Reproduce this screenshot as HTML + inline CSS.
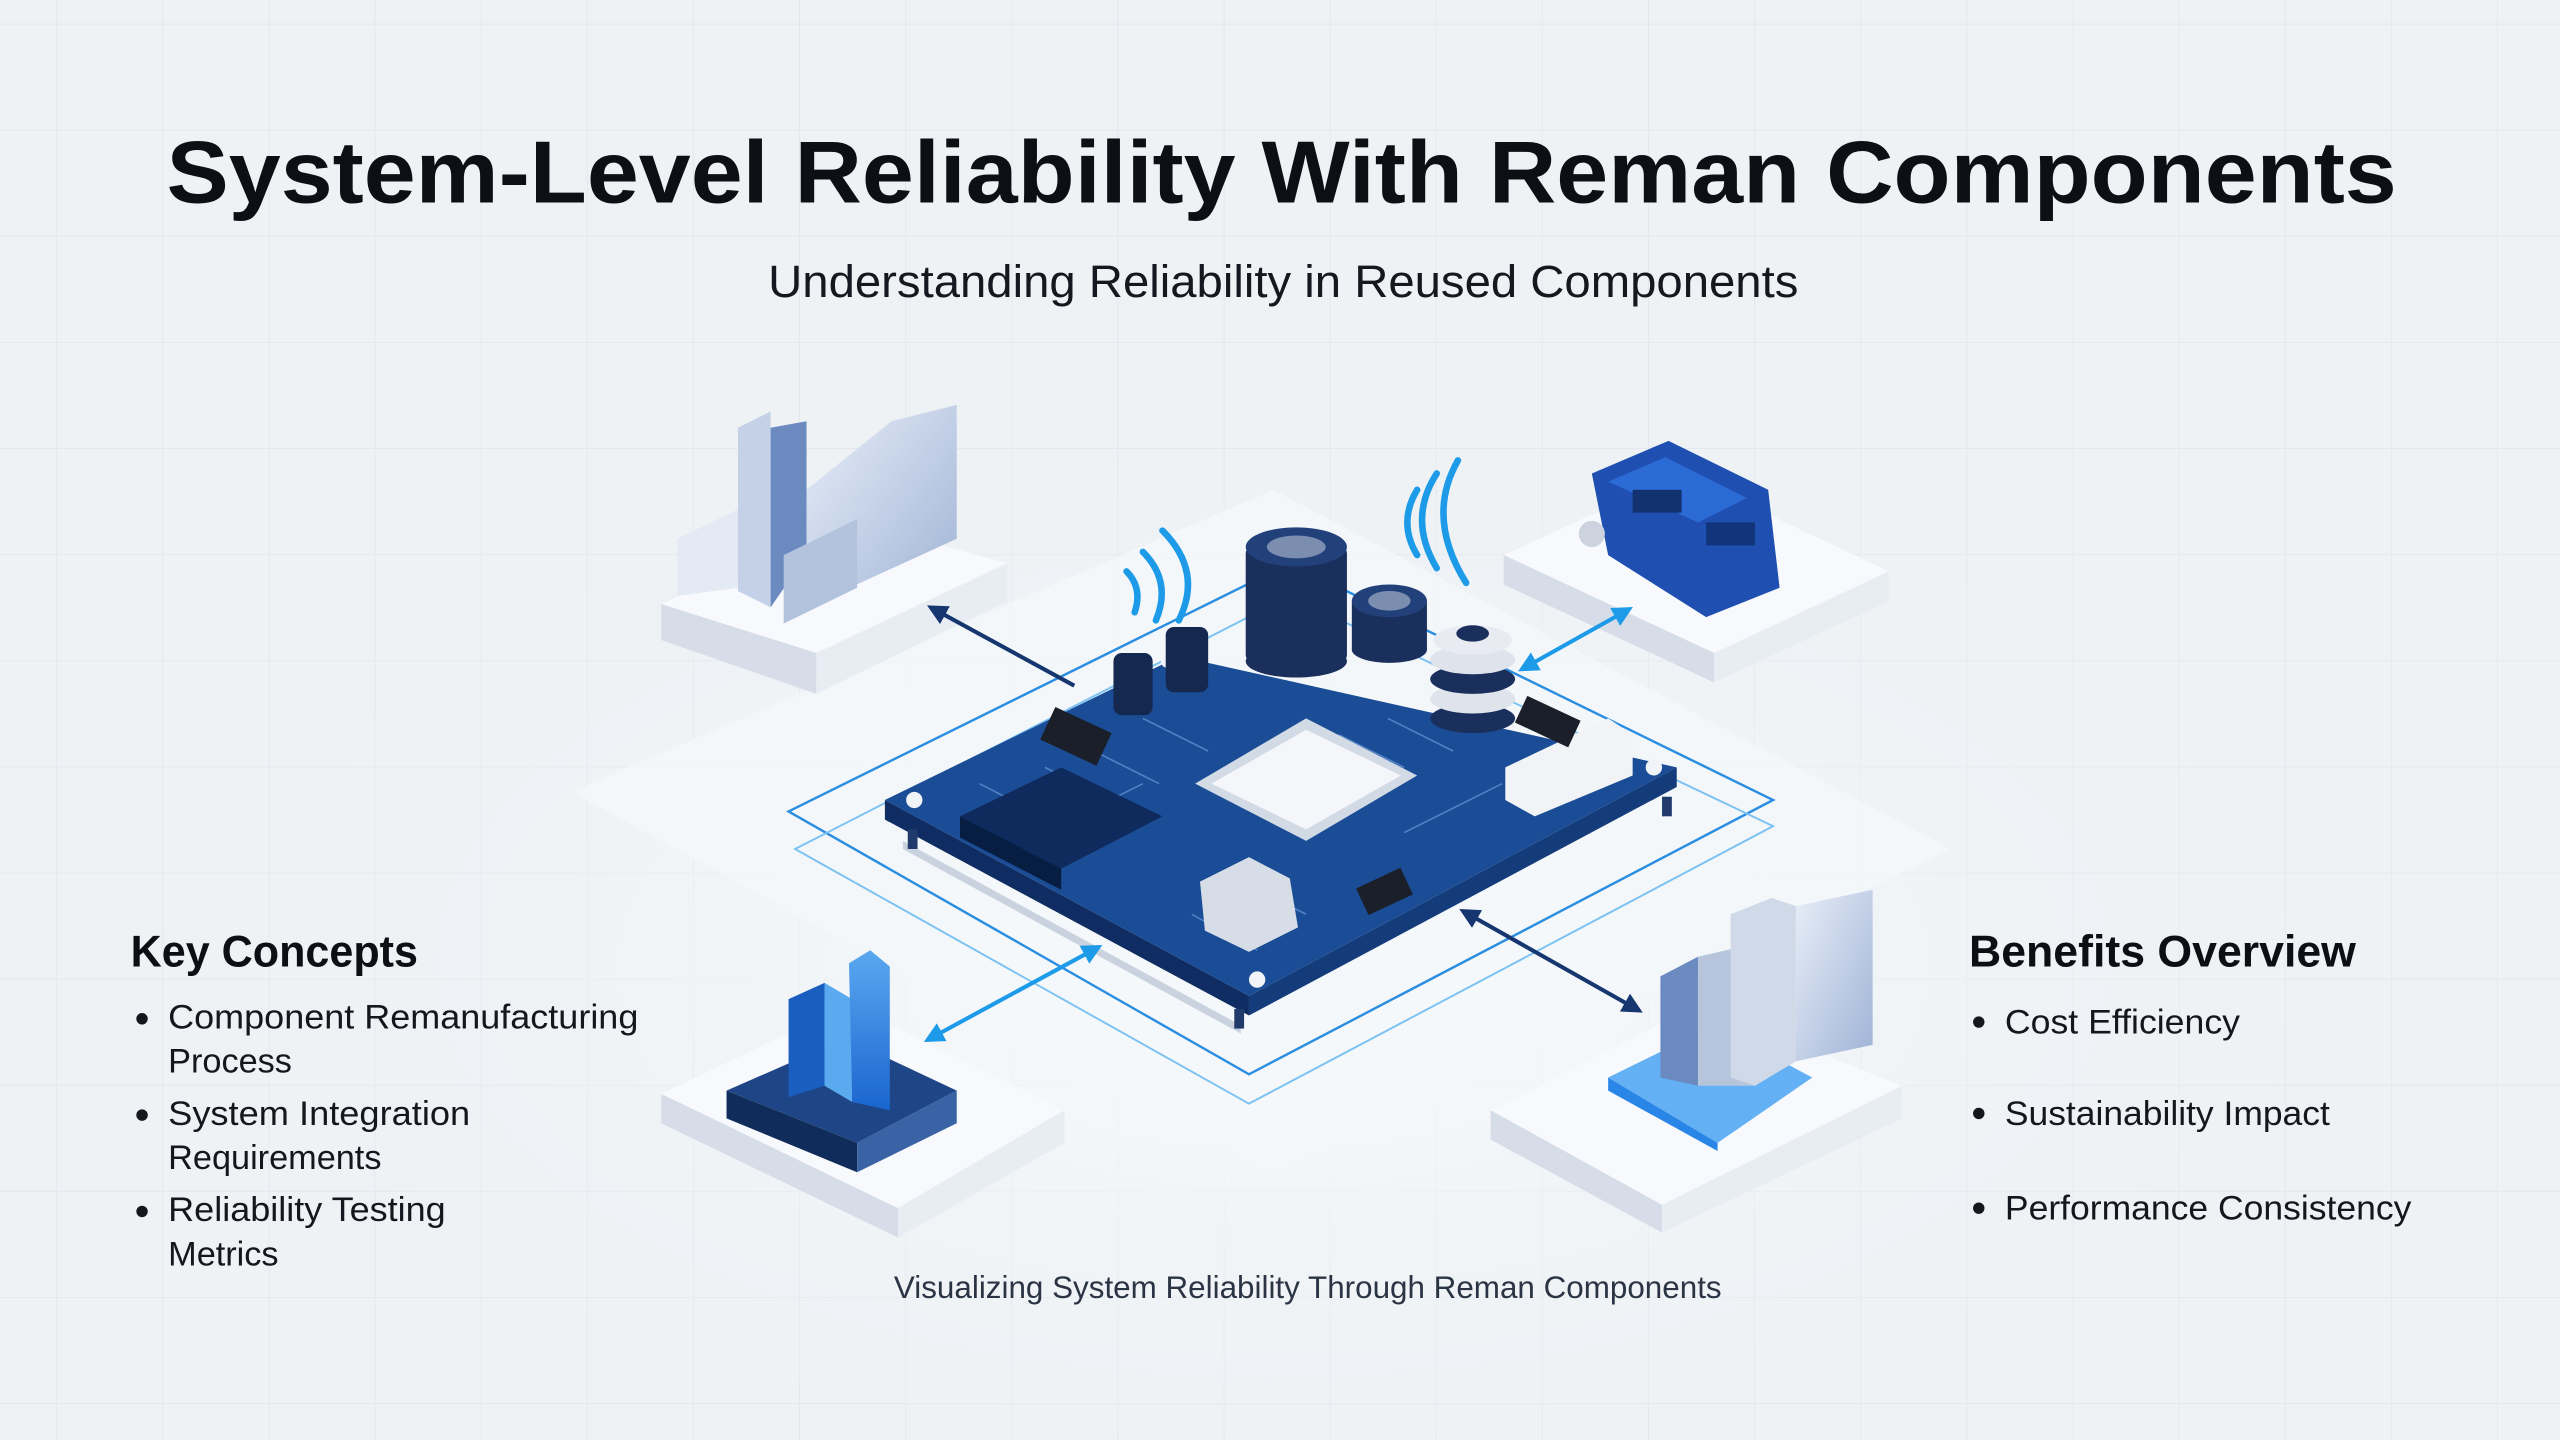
<!DOCTYPE html>
<html><head><meta charset="utf-8"><style>
html,body{margin:0;padding:0;background:#eef2f5;}
svg{display:block}
</style></head><body>
<svg width="2560" height="1440" viewBox="0 0 1568 882" xmlns="http://www.w3.org/2000/svg" font-family="Liberation Sans, sans-serif">
<defs>
<pattern id="grid" width="65" height="65" patternUnits="userSpaceOnUse" x="-30" y="15">
<path d="M65 0V65M0 65H65" stroke="#e2e7ec" stroke-width="1" fill="none"/>
</pattern>
<radialGradient id="glow" cx="0.5" cy="0.55" r="0.5"><stop offset="0" stop-color="#fbfcfd"/><stop offset="1" stop-color="#eef2f5" stop-opacity="0"/></radialGradient>
<linearGradient id="gA" x1="0" y1="0" x2="1" y2="1"><stop offset="0" stop-color="#e8eef8"/><stop offset="1" stop-color="#9fb3d6"/></linearGradient>
<linearGradient id="gB" x1="0" y1="0" x2="0" y2="1"><stop offset="0" stop-color="#5aa8f0"/><stop offset="1" stop-color="#1a66d0"/></linearGradient>
<linearGradient id="gC" x1="0" y1="0" x2="1" y2="0"><stop offset="0" stop-color="#6d8ec4"/><stop offset="1" stop-color="#d7e1f0"/></linearGradient>
<marker id="mN" viewBox="0 0 10 10" refX="8" refY="5" markerWidth="5" markerHeight="5" orient="auto-start-reverse"><path d="M0 0L10 5L0 10z" fill="#16366f"/></marker>
<marker id="mL" viewBox="0 0 10 10" refX="8" refY="5" markerWidth="5" markerHeight="5" orient="auto-start-reverse"><path d="M0 0L10 5L0 10z" fill="#1e9be8"/></marker>
</defs>
<rect width="1568" height="882" fill="#eef2f5"/>
<rect width="1568" height="882" fill="url(#grid)"/>
<ellipse cx="780" cy="560" rx="650" ry="320" fill="url(#glow)"/>

<!-- faint large diamond -->
<polygon points="350,485 780,300 1195,520 780,720" fill="#f4f7fa" opacity="0.8"/>

<!-- platforms -->
<g>
<polygon points="405,370 518,318 617,345 500,400" fill="#f7f9fc"/>
<polygon points="405,370 500,400 500,425 405,392" fill="#d6dde8"/>
<polygon points="500,400 617,345 617,368 500,425" fill="#e8edf3"/>
<polygon points="415,330 452,312 452,360 415,365" fill="#e4eaf4"/>
<polygon points="452,262 472,252 472,372 452,362" fill="#c5d1e6"/>
<polygon points="472,262 494,258 494,340 472,372" fill="#6b8ac0"/>
<polygon points="494,300 546,258 586,248 586,330 494,372" fill="url(#gA)"/>
<polygon points="480,340 525,318 525,360 480,382" fill="#b3c3de"/>
</g>
<g>
<polygon points="921,340 1030,290 1157,350 1050,400" fill="#f7f9fc"/>
<polygon points="921,340 1050,400 1050,418 921,358" fill="#d6dde8"/>
<polygon points="1050,400 1157,350 1157,368 1050,418" fill="#e8edf3"/>
<polygon points="975,290 1022,270 1083,300 1090,360 1045,378 985,340" fill="#1f4fb0"/>
<polygon points="985,295 1020,280 1070,305 1040,320" fill="#2c6ad6"/>
<rect x="1000" y="300" width="30" height="14" fill="#11326e"/>
<rect x="1045" y="320" width="30" height="14" fill="#12347a"/>
<circle cx="975" cy="327" r="8" fill="#ccd3de"/>
</g>
<g>
<polygon points="405,670 520,615 652,680 550,740" fill="#f7f9fc"/>
<polygon points="405,670 550,740 550,758 405,688" fill="#d6dde8"/>
<polygon points="550,740 652,680 652,700 550,758" fill="#e8edf3"/>
<polygon points="445,668 518,636 586,668 525,700" fill="#1e4585"/>
<polygon points="445,668 525,700 525,718 445,685" fill="#102c5a"/>
<polygon points="525,700 586,668 586,688 525,718" fill="#3a63a5"/>
<polygon points="483,612 505,602 505,665 483,672" fill="#1a5ec0"/>
<polygon points="505,602 522,612 522,675 505,665" fill="#5aaaf0"/>
<polygon points="520,590 533,582 545,592 545,680 522,675" fill="url(#gB)"/>
</g>
<g>
<polygon points="913,680 1040,615 1165,665 1018,738" fill="#f7f9fc"/>
<polygon points="913,680 1018,738 1018,755 913,698" fill="#d6dde8"/>
<polygon points="1018,738 1165,665 1165,685 1018,755" fill="#e8edf3"/>
<polygon points="985,660 1050,628 1110,660 1052,700" fill="#63b0f5"/>
<polygon points="985,660 1052,700 1052,705 985,668" fill="#2a86e6"/>
<polygon points="1017,598 1040,586 1040,665 1017,660" fill="#6a8ac0"/>
<polygon points="1040,586 1075,578 1075,665 1040,665" fill="#b6c4dc"/>
<polygon points="1060,560 1085,550 1100,555 1100,650 1075,665 1060,660" fill="#cfd9e8"/>
<polygon points="1100,555 1147,545 1147,640 1100,650" fill="url(#gA)"/>
</g>

<!-- outline diamonds -->
<polygon points="483,497 790,345 1086,490 765,658" fill="none" stroke="#2c8ee0" stroke-width="1.5"/>
<polygon points="487,520 790,365 1086,506 765,676" fill="none" stroke="#7cc2f2" stroke-width="1.2"/>

<!-- PCB -->
<polygon points="553,515 760,628 760,633 553,520" fill="#c9d2de"/>
<polygon points="542,490 765,610 765,622 542,502" fill="#0f2d62"/>
<polygon points="765,610 1027,470 1027,482 765,622" fill="#143b7a"/>
<polygon points="542,490 722,402 1027,470 765,610" fill="#1b4d96"/>
<g stroke="#5b8ed0" stroke-width="1" fill="none" opacity="0.8">
<path d="M640 470 l40 20 l20 -10 M660 455 l50 25 M700 440 l40 20 M820 450 l40 20 M850 440 l40 20 M760 540 l40 20 M730 560 l40 22 M860 510 l40 -20 M880 500 l40 -20 M620 500 l40 20 M600 480 l35 18"/>
</g>
<polygon points="732,480 800,440 868,475 800,515" fill="#d2dae6"/>
<polygon points="742,480 800,447 858,475 800,508" fill="#f4f6fa"/>
<polygon points="588,500 650,470 712,500 650,532" fill="#0f2a5c"/>
<polygon points="588,500 650,532 650,545 588,513" fill="#081d42"/>
<polygon points="922,470 985,440 1000,450 1000,475 940,500 922,490" fill="#f1f3f6"/>
<polygon points="735,540 765,525 790,538 795,568 765,583 738,570" fill="#d7dde6"/>
<rect x="640" y="440" width="38" height="22" fill="#1a1f2a" transform="rotate(25 659 451)"/>
<rect x="833" y="537" width="30" height="18" fill="#1a1f2a" transform="rotate(-25 848 546)"/>
<rect x="930" y="433" width="36" height="18" fill="#1a1f2a" transform="rotate(25 948 442)"/>
<g fill="#f0f3f8"><circle cx="560" cy="490" r="5"/><circle cx="770" cy="600" r="5"/><circle cx="1013" cy="470" r="5"/><circle cx="715" cy="405" r="4"/></g>
<g fill="#1f3a6b"><rect x="556" y="508" width="6" height="12"/><rect x="756" y="618" width="6" height="12"/><rect x="1018" y="488" width="6" height="12"/></g>
<!-- capacitors -->
<rect x="763" y="335" width="62" height="70" rx="4" fill="#1b2f5c"/>
<ellipse cx="794" cy="405" rx="31" ry="10" fill="#1b2f5c"/>
<ellipse cx="794" cy="335" rx="31" ry="12" fill="#22417a"/>
<ellipse cx="794" cy="335" rx="18" ry="7" fill="#7b8eb0"/>
<rect x="828" y="368" width="46" height="30" fill="#1b2f5c"/>
<ellipse cx="851" cy="398" rx="23" ry="8" fill="#1b2f5c"/>
<ellipse cx="851" cy="368" rx="23" ry="10" fill="#22417a"/>
<ellipse cx="851" cy="368" rx="13" ry="6" fill="#7b8eb0"/>
<rect x="682" y="400" width="24" height="38" rx="5" fill="#15284f"/>
<rect x="714" y="384" width="26" height="40" rx="5" fill="#15284f"/>
<g>
<ellipse cx="902" cy="440" rx="26" ry="9" fill="#1b2f5c"/>
<ellipse cx="902" cy="428" rx="26" ry="9" fill="#dfe4ec"/>
<ellipse cx="902" cy="416" rx="26" ry="9" fill="#1b2f5c"/>
<ellipse cx="902" cy="404" rx="26" ry="9" fill="#dfe4ec"/>
<ellipse cx="902" cy="392" rx="24" ry="9" fill="#e8ecf2"/>
<ellipse cx="902" cy="388" rx="10" ry="5" fill="#1b2f5c"/>
</g>
<!-- wifi waves -->
<g fill="none" stroke="#1e9be8" stroke-width="4" stroke-linecap="round">
<path d="M690 350 q10 10 5 25"/><path d="M700 338 q18 18 8 42"/><path d="M712 325 q25 25 10 55"/>
<path d="M868 300 q-12 20 0 40"/><path d="M880 290 q-18 28 0 58"/><path d="M893 282 q-20 35 5 75"/>
</g>

<!-- arrows -->
<line x1="658" y1="420" x2="570" y2="372" stroke="#16366f" stroke-width="2.5" marker-end="url(#mN)"/>
<line x1="932" y1="410" x2="998" y2="373" stroke="#1e9be8" stroke-width="2.5" marker-start="url(#mL)" marker-end="url(#mL)"/>
<line x1="673" y1="580" x2="568" y2="637" stroke="#1e9be8" stroke-width="2.5" marker-start="url(#mL)" marker-end="url(#mL)"/>
<line x1="896" y1="558" x2="1004" y2="619" stroke="#16366f" stroke-width="2.5" marker-start="url(#mN)" marker-end="url(#mN)"/>

<!-- text -->
<text x="785" y="124" text-anchor="middle" font-size="54" font-weight="bold" fill="#0d0f14" textLength="1366" lengthAdjust="spacingAndGlyphs">System-Level Reliability With Reman Components</text>
<text x="786" y="182" text-anchor="middle" font-size="28" fill="#15181f" textLength="631" lengthAdjust="spacingAndGlyphs">Understanding Reliability in Reused Components</text>

<text x="80" y="592" font-size="27" font-weight="bold" fill="#0d0f14" textLength="176" lengthAdjust="spacingAndGlyphs">Key Concepts</text>
<g font-size="21" fill="#14171d">
<circle cx="87" cy="624" r="3.5" fill="#14171d"/>
<text x="103" y="630" textLength="288" lengthAdjust="spacingAndGlyphs">Component Remanufacturing</text>
<text x="103" y="657">Process</text>
<circle cx="87" cy="683" r="3.5" fill="#14171d"/>
<text x="103" y="689" textLength="185" lengthAdjust="spacingAndGlyphs">System Integration</text>
<text x="103" y="716">Requirements</text>
<circle cx="87" cy="742" r="3.5" fill="#14171d"/>
<text x="103" y="748" textLength="170" lengthAdjust="spacingAndGlyphs">Reliability Testing</text>
<text x="103" y="775">Metrics</text>
</g>
<text x="1206" y="592" font-size="27" font-weight="bold" fill="#0d0f14" textLength="237" lengthAdjust="spacingAndGlyphs">Benefits Overview</text>
<g font-size="21" fill="#14171d">
<circle cx="1212" cy="626" r="3.5" fill="#14171d"/>
<text x="1228" y="633" textLength="144" lengthAdjust="spacingAndGlyphs">Cost Efficiency</text>
<circle cx="1212" cy="682" r="3.5" fill="#14171d"/>
<text x="1228" y="689" textLength="199" lengthAdjust="spacingAndGlyphs">Sustainability Impact</text>
<circle cx="1212" cy="740" r="3.5" fill="#14171d"/>
<text x="1228" y="747" textLength="249" lengthAdjust="spacingAndGlyphs">Performance Consistency</text>
</g>
<text x="801" y="795" text-anchor="middle" font-size="19" fill="#2a3444" textLength="507" lengthAdjust="spacingAndGlyphs">Visualizing System Reliability Through Reman Components</text>
</svg>
</body></html>
